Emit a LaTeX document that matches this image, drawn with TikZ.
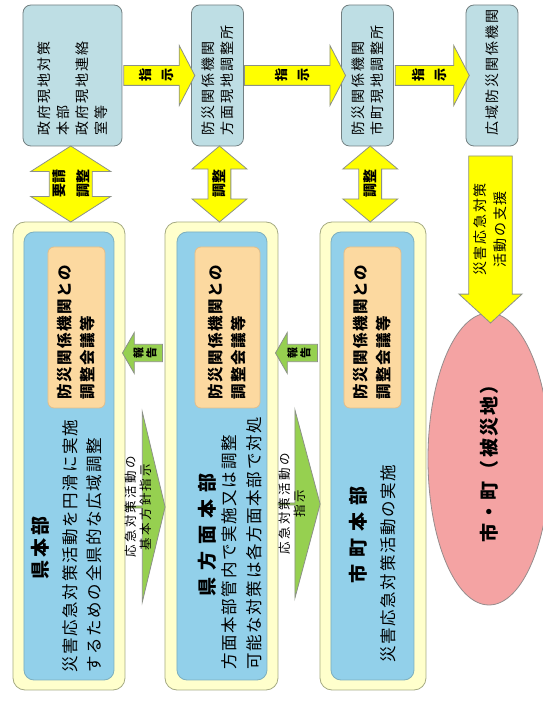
\documentclass[tikz,border=0pt]{standalone}
\usepackage{fontspec}
\setmainfont{Noto Sans CJK JP}
\usetikzlibrary{shapes.geometric, shapes.arrows, calc}

\definecolor{govfill}{RGB}{190,222,228}
\definecolor{govline}{RGB}{115,128,130}
\definecolor{yelfill}{RGB}{255,255,0}
\definecolor{arrline}{RGB}{140,145,135}
\definecolor{hqfill}{RGB}{255,255,204}
\definecolor{hqline}{RGB}{165,170,130}
\definecolor{hqinfill}{RGB}{146,208,234}
\definecolor{hqinline}{RGB}{125,175,190}
\definecolor{conffill}{RGB}{252,217,160}
\definecolor{confline}{RGB}{225,190,140}
\definecolor{grnfill}{RGB}{150,208,80}
\definecolor{cityfill}{RGB}{244,163,163}
\definecolor{cityline}{RGB}{150,140,140}

\begin{document}
\begin{tikzpicture}[x=1pt, y=1pt, rotate=90, transform shape, line width=0.8pt,
    gov/.style = {draw=govline, fill=govfill, rounded corners=8pt, text width=121, inner sep=10pt, align=left, font=\fontsize{14}{19}\selectfont\addfontfeature{LetterSpace=15}},
    hq/.style = {draw=hqline, fill=hqfill, rounded corners=12pt, minimum width=468},
    hqin/.style = {draw=hqinline, fill=hqinfill, rounded corners=10pt, minimum width=448},
    conf/.style = {draw=confline, fill=conffill, rounded corners=6pt, text width=145, inner sep=8pt, align=left, font=\bfseries\fontsize{15.5}{23}\selectfont\addfontfeature{LetterSpace=10}},
    hqtitle/.style = {inner sep=0pt, font=\bfseries\fontsize{19}{24}\selectfont\addfontfeature{LetterSpace=37}},
    hqbody/.style = {anchor=west, align=left, inner sep=0pt, font=\fontsize{16.5}{24.5}\selectfont\addfontfeature{LetterSpace=10}},
    yarrow/.style = {single arrow, draw=arrline, fill=yelfill, inner sep=0pt, align=center, shape border rotate=270, single arrow tip angle=125, font=\bfseries\fontsize{13}{22}\selectfont},
    darrow/.style = {double arrow, draw=arrline, fill=yelfill, inner sep=0pt, align=center, double arrow tip angle=115, font=\bfseries\fontsize{14}{24}\selectfont},
    garrow/.style = {single arrow, draw=arrline, fill=grnfill, inner sep=0pt, align=center, font=\bfseries\fontsize{11}{13}\selectfont},
    gtext/.style = {inner sep=0pt, align=center, font=\fontsize{12.5}{15}\selectfont\addfontfeature{LetterSpace=18}}]

\useasboundingbox (0,0) rectangle (702,542);

% upper row
\node[gov, minimum height=99] (gov1) at (626.5,469.5) {政府現地対策\\本部\\政府現地連絡\\室等};
\node[gov, minimum height=49] (gov2) at (626.5,324.5) {防災関係機関\\方面現地調整所};
\node[gov, minimum height=49] (gov3) at (626.5,174.5) {防災関係機関\\市町現地調整所};
\node[gov, minimum height=52] (gov4) at (626.5,50) {広域防災関係機関};

% headquarters
\node[hq, minimum height=112] (ken) at (246,473) {};
\node[hqin, minimum height=90] (kenin) at (246,473) {};
\node[conf, minimum height=57] (kenconf) at (374.5,465.5) {防災関係機関との\\調整会議等};
\node[hqtitle, font=\bfseries\fontsize{19}{24}\selectfont\addfontfeature{LetterSpace=16}] (kentitle) at (154,502) {県本部};
\node[hqbody] (kenbody) at (29,459.5) {災害応急対策活動を円滑に実施\\するための全県的な広域調整};

\node[hq, minimum height=113] (hou) at (246,320.5) {};
\node[hqin, minimum height=90] (houin) at (246,320) {};
\node[conf, minimum height=65] (houconf) at (374.5,314.5) {防災関係機関との\\調整会議等};
\node[hqtitle] (houtitle) at (167,335) {県方面本部};
\node[hqbody] (houbody) at (32,300.5) {方面本部管内で実施又は調整\\可能な対策は各方面本部で対処};

\node[hq, minimum height=106] (shi) at (246,169) {};
\node[hqin, minimum height=83] (shiin) at (246,169.5) {};
\node[conf, minimum height=57] (shiconf) at (374.5,169.5) {防災関係機関との\\調整会議等};
\node[hqtitle] (shititle) at (167,184) {市町本部};
\node[hqbody] (shibody) at (39,154) {災害応急対策活動の実施};

\node[ellipse, draw=cityline, fill=cityfill, minimum width=292, minimum height=122, font=\bfseries\fontsize{19}{24}\selectfont\addfontfeature{LetterSpace=12}] (city) at (243,53) {市・町（被災地）};

% yellow arrows
\node[yarrow, minimum height=71, minimum width=60, single arrow head extend=14] (y1) at ($(gov1.south)!0.5!(gov2.north)$) {指\\示};
\node[yarrow, minimum height=101, minimum width=60, single arrow head extend=14] (y2) at ($(gov2.south)!0.5!(gov3.north)$) {指\\示};
\node[yarrow, minimum height=74, minimum width=60, single arrow head extend=14] (y3) at ($(gov3.south)!0.5!(gov4.north)$) {指\\示};
\node[yarrow, shape border rotate=180, minimum height=167, minimum width=63, single arrow head extend=7.5, single arrow tip angle=95, font=\fontsize{14}{20}\selectfont\addfontfeature{LetterSpace=12}] (y4) at ($(gov4.west)!0.5!(city.east)$) {災害応急対策\\活動の支援};

\node[darrow, minimum height=76, minimum width=80, double arrow head extend=16.5] (d1) at ($(gov1.west)!0.5!(ken.east)$) {要請\\調整};
\node[darrow, minimum height=76, minimum width=55, double arrow head extend=10, double arrow tip angle=100] (d2) at ($(gov2.west)!0.5!(hou.east)$) {調整};
\node[darrow, minimum height=76, minimum width=55, double arrow head extend=10, double arrow tip angle=100] (d3) at ($(gov3.west)!0.5!(shi.east)$) {調整};

% green arrows
\node[garrow, shape border rotate=90, minimum height=40, minimum width=41, single arrow head extend=8, single arrow tip angle=120, xshift=103] (r1) at ($(hou.north)!0.5!(ken.south)$) {報\\告};
\node[garrow, shape border rotate=90, minimum height=42, minimum width=41, single arrow head extend=8, single arrow tip angle=120, xshift=103] (r2) at ($(shi.north)!0.5!(hou.south)$) {報\\告};

\node[garrow, shape border rotate=270, minimum height=40, minimum width=190, single arrow head extend=36.5, single arrow tip angle=153, xshift=-51] (g1) at ($(ken.south)!0.5!(hou.north)$) {};
\node[gtext] (g1t) at ([yshift=7]g1.center) {応急対策活動の\\基本方針指示};
\node[garrow, shape border rotate=270, minimum height=42, minimum width=188, single arrow head extend=35, single arrow tip angle=150, xshift=-48] (g2) at ($(hou.south)!0.5!(shi.north)$) {};
\node[gtext] (g2t) at ([yshift=7]g2.center) {応急対策活動の\\指示};

\end{tikzpicture}
\end{document}
